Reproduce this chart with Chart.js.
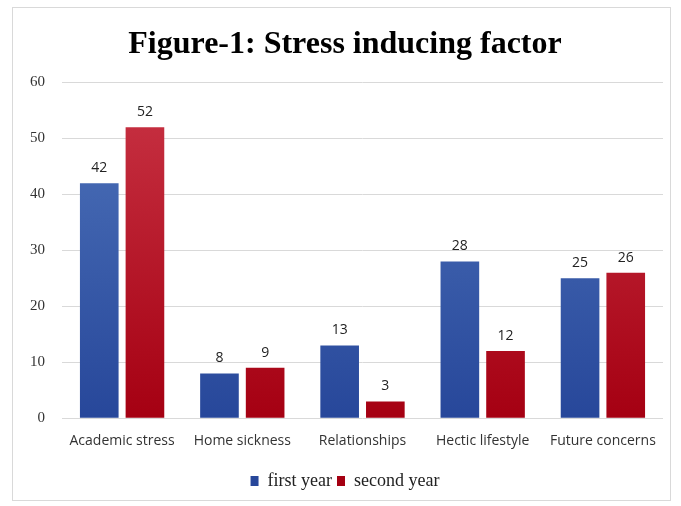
<!DOCTYPE html>
<html>
<head>
<meta charset="utf-8">
<script src="https://cdn.jsdelivr.net/npm/chart.js@4/dist/chart.umd.min.js"></script>
<style>
  html, body { margin: 0; padding: 0; background: #fff; }
  #frame {
    position: absolute; left: 12px; top: 7px;
    width: 657px; height: 492px;
    border: 1px solid #d9d9d9;
  }
</style>
</head>
<body>
<div id="frame"><canvas id="chart"></canvas></div>
<script>
const factors = ['Academic stress', 'Home sickness', 'Relationships', 'Hectic lifestyle', 'Future concerns'];
const firstYear = [42, 8, 13, 28, 25];
const secondYear = [52, 9, 3, 12, 26];
const yTicks = [0, 10, 20, 30, 40, 50, 60];

// vertical gradient for each bar, lighter at the top
function barGradient(ctx, top, bottom) {
  const chart = ctx.chart;
  const area = chart.chartArea;
  if (!area) return bottom;
  const g = chart.ctx.createLinearGradient(0, area.top, 0, area.bottom);
  g.addColorStop(0, top);
  g.addColorStop(1, bottom);
  return g;
}

// numbers above the bars
const valueLabels = {
  id: 'valueLabels',
  afterDatasetsDraw(chart) {
    const ctx = chart.ctx;
    ctx.save();
    ctx.font = '14px "Open Sans", sans-serif';
    ctx.fillStyle = '#222';
    ctx.textAlign = 'center';
    ctx.textBaseline = 'bottom';
    chart.data.datasets.forEach((ds, i) => {
      chart.getDatasetMeta(i).data.forEach((bar, j) => {
        ctx.fillText(ds.data[j], bar.x, bar.y - 8);
      });
    });
    ctx.restore();
  }
};

const ctx = document.getElementById('chart').getContext('2d');
new Chart(ctx, {
  type: 'bar',
  data: {
    labels: factors,
    datasets: [{
      label: 'first year',
      data: firstYear,
      backgroundColor: (c) => barGradient(c, '#4f74bb', '#27479a')
    }, {
      label: 'second year',
      data: secondYear,
      backgroundColor: (c) => barGradient(c, '#c93445', '#a50012')
    }]
  },
  options: {
    responsive: true,
    maintainAspectRatio: false,
    animation: false,
    categoryPercentage: 0.76,
    barPercentage: 0.846,
    layout: {
      padding: { left: 14, right: 7, top: 0, bottom: 0 }
    },
    plugins: {
      title: {
        display: true,
        text: 'Figure-1: Stress inducing factor',
        color: '#000',
        font: { family: '"Liberation Serif", serif', size: 32, weight: 'bold' },
        padding: { top: 18, bottom: 18 }
      },
      legend: {
        position: 'bottom',
        labels: {
          color: '#222',
          font: { family: '"Liberation Serif", serif', size: 18 },
          boxWidth: 8,
          boxHeight: 10,
          padding: 5
        }
      },
      tooltip: { enabled: false }
    },
    scales: {
      x: {
        grid: { display: false },
        border: { display: false },
        // extra room between the category names and the legend
        afterFit: (axis) => { axis.height += 12; },
        ticks: {
          color: '#333',
          font: { family: '"Open Sans", sans-serif', size: 14 },
          maxRotation: 0,
          padding: 6
        }
      },
      y: {
        min: 0,
        max: 60,
        afterBuildTicks: (axis) => {
          axis.ticks = yTicks.map((v) => ({ value: v }));
        },
        afterFit: (axis) => { axis.width = 35; },
        grid: { color: '#d9d9d9', drawTicks: false },
        border: { display: false },
        ticks: {
          color: '#333',
          font: { family: '"Liberation Serif", serif', size: 15 },
          padding: 17
        }
      }
    }
  },
  plugins: [valueLabels]
});
</script>
</body>
</html>
